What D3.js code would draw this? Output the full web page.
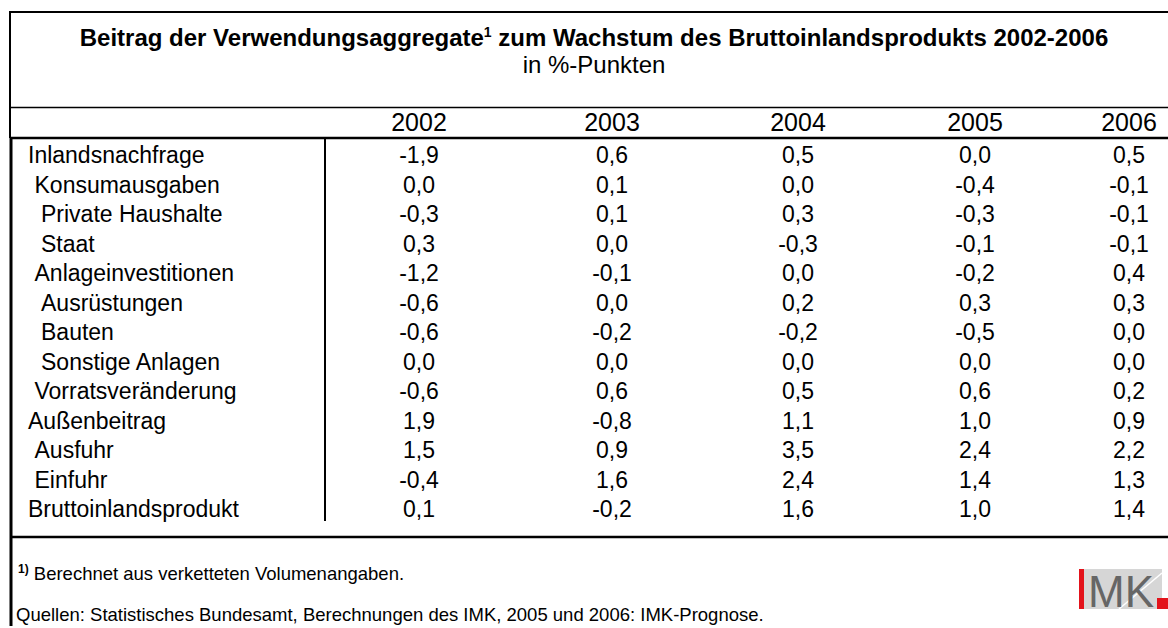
<!DOCTYPE html>
<meta charset="utf-8">
<style>
body { margin: 0; background: #fff; }
svg { display: block; font-family: Arial, "Liberation Sans", sans-serif; }
.rule { stroke: #000; }
</style>
<svg width="1168" height="628"></svg>
<script src="https://cdn.jsdelivr.net/npm/d3@7"></script>
<script>

var years = ["2002", "2003", "2004", "2005", "2006"];

var labels = ["Inlandsnachfrage", "Konsumausgaben", "Private Haushalte", "Staat",
  "Anlageinvestitionen", "Ausrüstungen", "Bauten", "Sonstige Anlagen",
  "Vorratsveränderung", "Außenbeitrag", "Ausfuhr", "Einfuhr", "Bruttoinlandsprodukt"];

// indentation level of each row label
var levels = [0, 1, 2, 2, 1, 2, 2, 2, 1, 0, 1, 1, 0];

var v2002 = [-1.9, 0.0, -0.3, 0.3, -1.2, -0.6, -0.6, 0.0, -0.6, 1.9, 1.5, -0.4, 0.1];
var v2003 = [0.6, 0.1, 0.1, 0.0, -0.1, 0.0, -0.2, 0.0, 0.6, -0.8, 0.9, 1.6, -0.2];
var v2004 = [0.5, 0.0, 0.3, -0.3, 0.0, 0.2, -0.2, 0.0, 0.5, 1.1, 3.5, 2.4, 1.6];
var v2005 = [0.0, -0.4, -0.3, -0.1, -0.2, 0.3, -0.5, 0.0, 0.6, 1.0, 2.4, 1.4, 1.0];
var v2006 = [0.5, -0.1, -0.1, -0.1, 0.4, 0.3, 0.0, 0.0, 0.2, 0.9, 2.2, 1.3, 1.4];

var series = [v2002, v2003, v2004, v2005, v2006];

var svg = d3.select("svg"),
    width = +svg.attr("width"),
    height = +svg.attr("height");

var fmt = function(v) { return d3.format(".1f")(v).replace(".", ",").replace("−", "-"); };

// column centres (uneven in the original)
var x = d3.scaleOrdinal()
    .domain(years)
    .range([419, 612, 798, 975, 1129]);

var y = d3.scalePoint()
    .domain(d3.range(labels.length))
    .range([163, 517]);

var indent = d3.scaleLinear().domain([0, 2]).range([28, 41]);

// frame
svg.append("line").attr("class", "rule").attr("x1", 9).attr("x2", width)
    .attr("y1", 12).attr("y2", 12).attr("stroke-width", 2);
svg.append("line").attr("class", "rule").attr("x1", 10).attr("x2", 10)
    .attr("y1", 11).attr("y2", 138).attr("stroke-width", 2);
svg.append("line").attr("class", "rule").attr("x1", 11).attr("x2", 11)
    .attr("y1", 138).attr("y2", 626).attr("stroke-width", 3);
svg.append("line").attr("class", "rule").attr("x1", 10).attr("x2", width)
    .attr("y1", 107.5).attr("y2", 107.5).attr("stroke-width", 1.5);
svg.append("line").attr("class", "rule").attr("x1", 10).attr("x2", width)
    .attr("y1", 138).attr("y2", 138).attr("stroke-width", 2.5);
svg.append("line").attr("class", "rule").attr("x1", 10).attr("x2", width)
    .attr("y1", 537).attr("y2", 537).attr("stroke-width", 2.5);
svg.append("line").attr("class", "rule").attr("x1", 325).attr("x2", 325)
    .attr("y1", 138).attr("y2", 521).attr("stroke-width", 2);

// title
var title = svg.append("text")
    .attr("x", 594).attr("y", 46)
    .attr("text-anchor", "middle")
    .attr("font-size", 24).attr("font-weight", "bold");
title.append("tspan").text("Beitrag der Verwendungsaggregate");
title.append("tspan").attr("font-size", 14).attr("dy", -9).text("1");
title.append("tspan").attr("dy", 9).text(" zum Wachstum des Bruttoinlandsprodukts 2002-2006");

svg.append("text")
    .attr("x", 594).attr("y", 73)
    .attr("text-anchor", "middle")
    .attr("font-size", 24)
    .text("in %-Punkten");

// header
svg.append("g").selectAll("text")
  .data(years)
  .enter().append("text")
    .attr("x", function(d) { return x(d); })
    .attr("y", 131)
    .attr("text-anchor", "middle")
    .attr("font-size", 25)
    .text(function(d) { return d; });

// row labels
svg.append("g").selectAll("text")
  .data(labels)
  .enter().append("text")
    .attr("x", function(d, i) { return indent(levels[i]); })
    .attr("y", function(d, i) { return y(i); })
    .attr("font-size", 23)
    .text(function(d) { return d; });

// values
svg.append("g").selectAll("g")
  .data(series)
  .enter().append("g")
    .attr("transform", function(d, j) { return "translate(" + x(years[j]) + ",0)"; })
  .selectAll("text")
  .data(function(d) { return d; })
  .enter().append("text")
    .attr("y", function(d, i) { return y(i); })
    .attr("text-anchor", "middle")
    .attr("font-size", 23)
    .text(fmt);

// footnotes
var fn = svg.append("text").attr("x", 18).attr("y", 580).attr("font-size", 18.5);
fn.append("tspan").attr("font-size", 12).attr("font-weight", "bold").attr("dy", -7).text("1)");
fn.append("tspan").attr("dy", 7).text(" Berechnet aus verketteten Volumenangaben.");

svg.append("text").attr("x", 16).attr("y", 621).attr("font-size", 18.5)
    .text("Quellen: Statistisches Bundesamt, Berechnungen des IMK, 2005 und 2006: IMK-Prognose.");

// IMK logo
var logo = svg.append("g").attr("transform", "translate(1079,569)");
logo.append("rect").attr("width", 83).attr("height", 40).attr("fill", "#d6d6d6");
logo.append("line").attr("x1", 40).attr("y1", 40).attr("x2", 83).attr("y2", 4)
    .attr("stroke", "#fff").attr("stroke-width", 1.5);
logo.append("rect").attr("width", 5).attr("height", 40).attr("fill", "#e3131b");
logo.append("text").attr("x", 9).attr("y", 38).attr("font-size", 44)
    .attr("textLength", 66).attr("lengthAdjust", "spacingAndGlyphs")
    .attr("fill", "#666").text("MK");
logo.append("rect").attr("x", 78).attr("y", 29).attr("width", 11).attr("height", 11).attr("fill", "#e3131b");

</script>
